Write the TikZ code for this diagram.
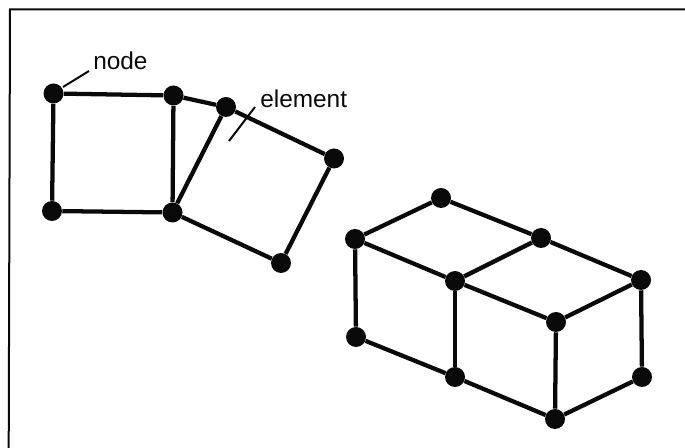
\documentclass[tikz,border=0pt]{standalone}
\usepackage{fontspec}
\setmainfont{Liberation Sans}
\usetikzlibrary{positioning}
\definecolor{ink}{HTML}{0A0A0A}
\tikzset{knot/.style={circle,fill=ink,inner sep=0pt,minimum size=15pt},
  bar/.style={line width=3.2pt,draw=ink},
  leader/.style={line width=1.5pt,draw=ink},
  tag/.style={font=\fontsize{18.3}{22}\selectfont,text=ink,inner sep=0pt}}
\begin{document}
\begin{tikzpicture}[x=.75pt,y=-.75pt]
\useasboundingbox (0,0) rectangle (685,448);
\draw[line width=1.5pt,draw=ink] (8.7,448)--(10,9.5)--(685,9.5);
% flat mesh
\foreach \n/\x/\y in {a/53.5/93.5,b/173.5/95.5,c/52/211,d/172.5/212.5,e/226/107,f/334/158.5,g/281/263}
 \node[knot] (\n) at (\x,\y) {};
\foreach \from/\to in {a/b,b/e,a/c,c/d,b/d,d/e,e/f,f/g,g/d}
 \draw[bar] (\from)--(\to);
% solid mesh
\foreach \n/\x/\y in {p/441/198,q/355/239,r/541/238,s/455/281,t/641/280,u/556/322,v/356/337,w/455/377,x/642/377,y/555/419}
 \node[knot] (\n) at (\x,\y) {};
\foreach \from/\to in {p/q,p/r,q/s,r/s,r/t,s/u,t/u,q/v,s/w,u/y,t/x,v/w,w/y,x/y}
 \draw[bar] (\from)--(\to);
% labels
\node[tag,anchor=west] (nodetag) at (93,61) {node};
\node[tag,anchor=west] (elemtag) at (260,99) {element};
\coordinate (nodefoot) at (63,87);
\coordinate (nodehead) at (89,71);
\coordinate (elemfoot) at (229,141);
\coordinate (elemhead) at (255,107);
\draw[leader] (nodehead)--(nodefoot);
\draw[leader] (elemhead)--(elemfoot);
\end{tikzpicture}
\end{document}
